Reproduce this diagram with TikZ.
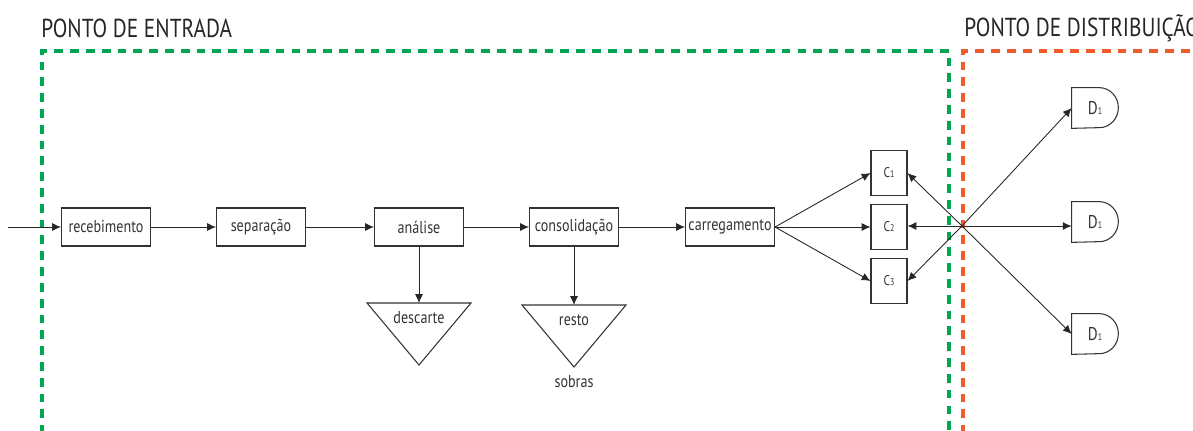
\documentclass[tikz,border=0pt]{standalone}
\usepackage{fontspec}
\setmainfont{PT Sans}[FakeStretch=0.82]
\usetikzlibrary{arrows.meta}

\definecolor{entradagreen}{HTML}{00A651}
\definecolor{distorange}{HTML}{F15A29}

\newcommand{\indice}[1]{{\fontsize{5.5}{6}\selectfont #1}}

\tikzset{
  etapa/.style={draw=black!80, line width=0.6pt, minimum width=1.78cm, minimum height=0.76cm, inner sep=1pt, font=\fontsize{9.8}{11}\selectfont, text=black!80},
  caixa/.style={draw=black!80, line width=0.6pt, minimum width=0.72cm, minimum height=0.9cm, inner sep=0pt, font=\fontsize{8}{9}\selectfont, text=black!80},
  destino/.style={minimum width=0.92cm, minimum height=0.8cm, inner sep=0pt, font=\fontsize{10.5}{11}\selectfont, text=black!80},
  rotulo/.style={inner sep=0pt, font=\fontsize{9.8}{11}\selectfont, text=black!80},
  fluxo/.style={-{Latex[length=5pt,width=4.5pt]}, line width=0.5pt, black!85},
  limite/.style={line width=1.8pt, dash pattern=on 5pt off 4pt},
  titulo/.style={font=\fontsize{14.8}{16}\selectfont, anchor=west, inner sep=0pt, text=black!85}
}

\begin{document}
\begin{tikzpicture}[x=0.02cm, y=-0.02cm]
\useasboundingbox (0,0) rectangle (1193,430);
\clip (0,0) rectangle (1193,430);

% limites
\draw[limite, entradagreen] (42,434) -- (42,51) -- (949,51) -- (949,434);
\draw[limite, distorange] (963,434) -- (963,51) -- (1200,51);

\node[titulo] (tentrada) at (41,28) {PONTO DE ENTRADA};
\node[titulo] (tdistrib) at (964,28) {PONTO DE DISTRIBUIÇÃO};

% etapas
\coordinate (inicio) at (8,227);
\node[etapa] (receb) at (106,227) {recebimento};
\node[etapa] (separ) at (261,227) {separação};
\node[etapa] (anal) at (419,227) {análise};
\node[etapa] (consol) at (574,227) {consolidação};
\node[etapa] (carreg) at (730,227) {carregamento};

\foreach \a/\b in {inicio/receb, receb/separ, separ/anal, anal/consol, consol/carreg}
    \draw[fluxo] (\a) -- (\b);

% descarte e resto
\coordinate (desc) at (419,303);
\coordinate (rest) at (574,305);

\draw[fluxo] (anal) -- (desc);
\draw[fluxo] (consol) -- (rest);

\foreach \t in {desc,rest}
    \draw[line width=0.6pt, black!80] (\t) ++(-52,0) -- ++(104,0) -- ++(-52,62) -- cycle;

\node[rotulo] (ldesc) at (419,318) {descarte};
\node[rotulo] (lrest) at (574,320) {resto};
\node[rotulo] (lsobr) at (574,382) {sobras};

% carregadores
\foreach \i/\y in {1/173, 2/227, 3/281}
    \node[caixa] (c\i) at (889,\y) {C\indice{\i}};

\foreach \i in {1,2,3}
    \draw[fluxo] (carreg.east) -- (c\i.west);

% distribuicao
\coordinate (hub) at (962,226);

\foreach \i/\y in {1/108, 2/222, 3/334}
    \node[destino] (d\i) at (1095,\y) {D\indice{1}};

\foreach \i in {1,2,3}
    \draw[line width=0.6pt, black!80] (d\i.south west) -- (d\i.north west)
        -- ([xshift=-0.38cm]d\i.north east) arc[start angle=90, end angle=-90, x radius=0.38cm, y radius=0.4cm] -- cycle;

\draw[fluxo] (hub) -- (c1.east);
\draw[fluxo] (hub) -- (hub -| c2.east);
\draw[fluxo] (hub) -- (c3.east);

\draw[fluxo] (hub) -- (d1.west);
\draw[fluxo] (hub) -- (hub -| d2.west);
\draw[fluxo] (hub) -- (d3.west);

\end{tikzpicture}
\end{document}
